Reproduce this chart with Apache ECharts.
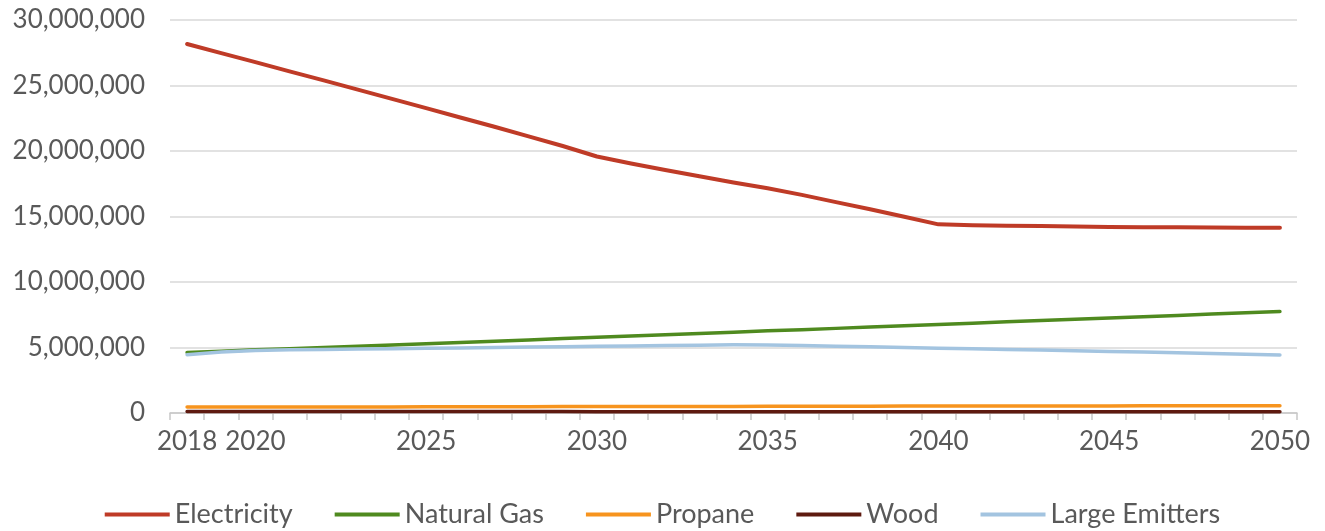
<!DOCTYPE html>
<html>
<head>
<meta charset="utf-8">
<script src="https://cdn.jsdelivr.net/npm/echarts@6/dist/echarts.min.js"></script>
<style>
html,body{margin:0;padding:0;background:#fff;}
#chart{width:1325px;height:531px;}
</style>
</head>
<body>
<div id="chart"></div>
<script>
const years = ['2018','2019','2020','2021','2022','2023','2024','2025','2026','2027','2028','2029','2030','2031','2032','2033','2034','2035','2036','2037','2038','2039','2040','2041','2042','2043','2044','2045','2046','2047','2048','2049','2050'];

const electricity = [28170000,27470000,26780000,26080000,25390000,24690000,23980000,23270000,22560000,21850000,21120000,20380000,19580000,19050000,18550000,18070000,17600000,17150000,16650000,16100000,15550000,14980000,14400000,14330000,14300000,14270000,14240000,14200000,14180000,14170000,14160000,14150000,14150000];

const naturalGas = [4620000,4720000,4820000,4910000,5000000,5100000,5190000,5290000,5380000,5480000,5580000,5680000,5780000,5870000,5970000,6070000,6170000,6270000,6360000,6460000,6560000,6660000,6760000,6860000,6960000,7060000,7150000,7250000,7350000,7450000,7550000,7650000,7750000];

const propane = [450000,452000,455000,458000,461000,464000,467000,470000,480000,483000,486000,489000,492000,495000,498000,501000,504000,507000,510000,520000,523000,526000,529000,532000,535000,538000,541000,543000,545000,547000,549000,550000,551000];

const wood = [110000,110000,110000,110000,108000,108000,108000,106000,106000,106000,105000,105000,104000,104000,103000,103000,102000,102000,101000,101000,100000,100000,100000,99000,99000,98000,98000,97000,97000,96000,96000,95000,95000];

const largeEmitters = [4450000,4650000,4780000,4820000,4850000,4880000,4910000,4940000,4970000,5000000,5030000,5060000,5090000,5120000,5150000,5180000,5210000,5200000,5150000,5100000,5050000,5000000,4950000,4900000,4850000,4800000,4750000,4700000,4650000,4600000,4540000,4480000,4430000];

const shownYearLabels = ['2018','2020','2025','2030','2035','2040','2045','2050'];

const chart = echarts.init(document.getElementById('chart'));
const font = 'Lato, "Liberation Sans", sans-serif';
const mk = (name, data, color, width) => ({
  name, type: 'line', data, symbol: 'none', smooth: false,
  lineStyle: {color, width, cap: 'round', join: 'round'},
  itemStyle: {color}
});
chart.setOption({
  animation: false,
  backgroundColor: '#ffffff',
  grid: {left: 170, right: 28, top: 20, bottom: 118},
  xAxis: {
    type: 'category',
    data: years,
    boundaryGap: true,
    axisLine: {lineStyle: {color: '#c8c8c8', width: 1.5}},
    axisTick: {show: true, interval: 0, length: 7, lineStyle: {color: '#c8c8c8', width: 1.5}},
    axisLabel: {
      interval: (i, v) => shownYearLabels.indexOf(v) >= 0,
      fontFamily: font, fontSize: 26, color: '#595959', margin: 16
    },
    splitLine: {show: false}
  },
  yAxis: {
    type: 'value',
    min: 0, max: 30000000, interval: 5000000,
    axisLine: {show: false},
    axisTick: {show: false},
    axisLabel: {
      fontFamily: font, fontSize: 26, color: '#595959', margin: 25,
      formatter: v => v.toLocaleString('en-US')
    },
    splitLine: {lineStyle: {color: '#d9d9d9', width: 1.5}}
  },
  legend: {
    bottom: -2,
    left: 'center',
    icon: 'rect',
    itemWidth: 65, itemHeight: 4,
    itemGap: 42,
    textStyle: {fontFamily: font, fontSize: 27, color: '#595959'},
    data: ['Electricity','Natural Gas','Propane','Wood','Large Emitters']
  },
  series: [
    mk('Electricity', electricity, '#bf3b27', 4),
    mk('Natural Gas', naturalGas, '#4f8a1f', 3.5),
    mk('Propane', propane, '#f7941e', 3.5),
    mk('Wood', wood, '#5e1a10', 3.5),
    mk('Large Emitters', largeEmitters, '#a3c4e0', 3.5)
  ]
});
</script>
</body>
</html>
